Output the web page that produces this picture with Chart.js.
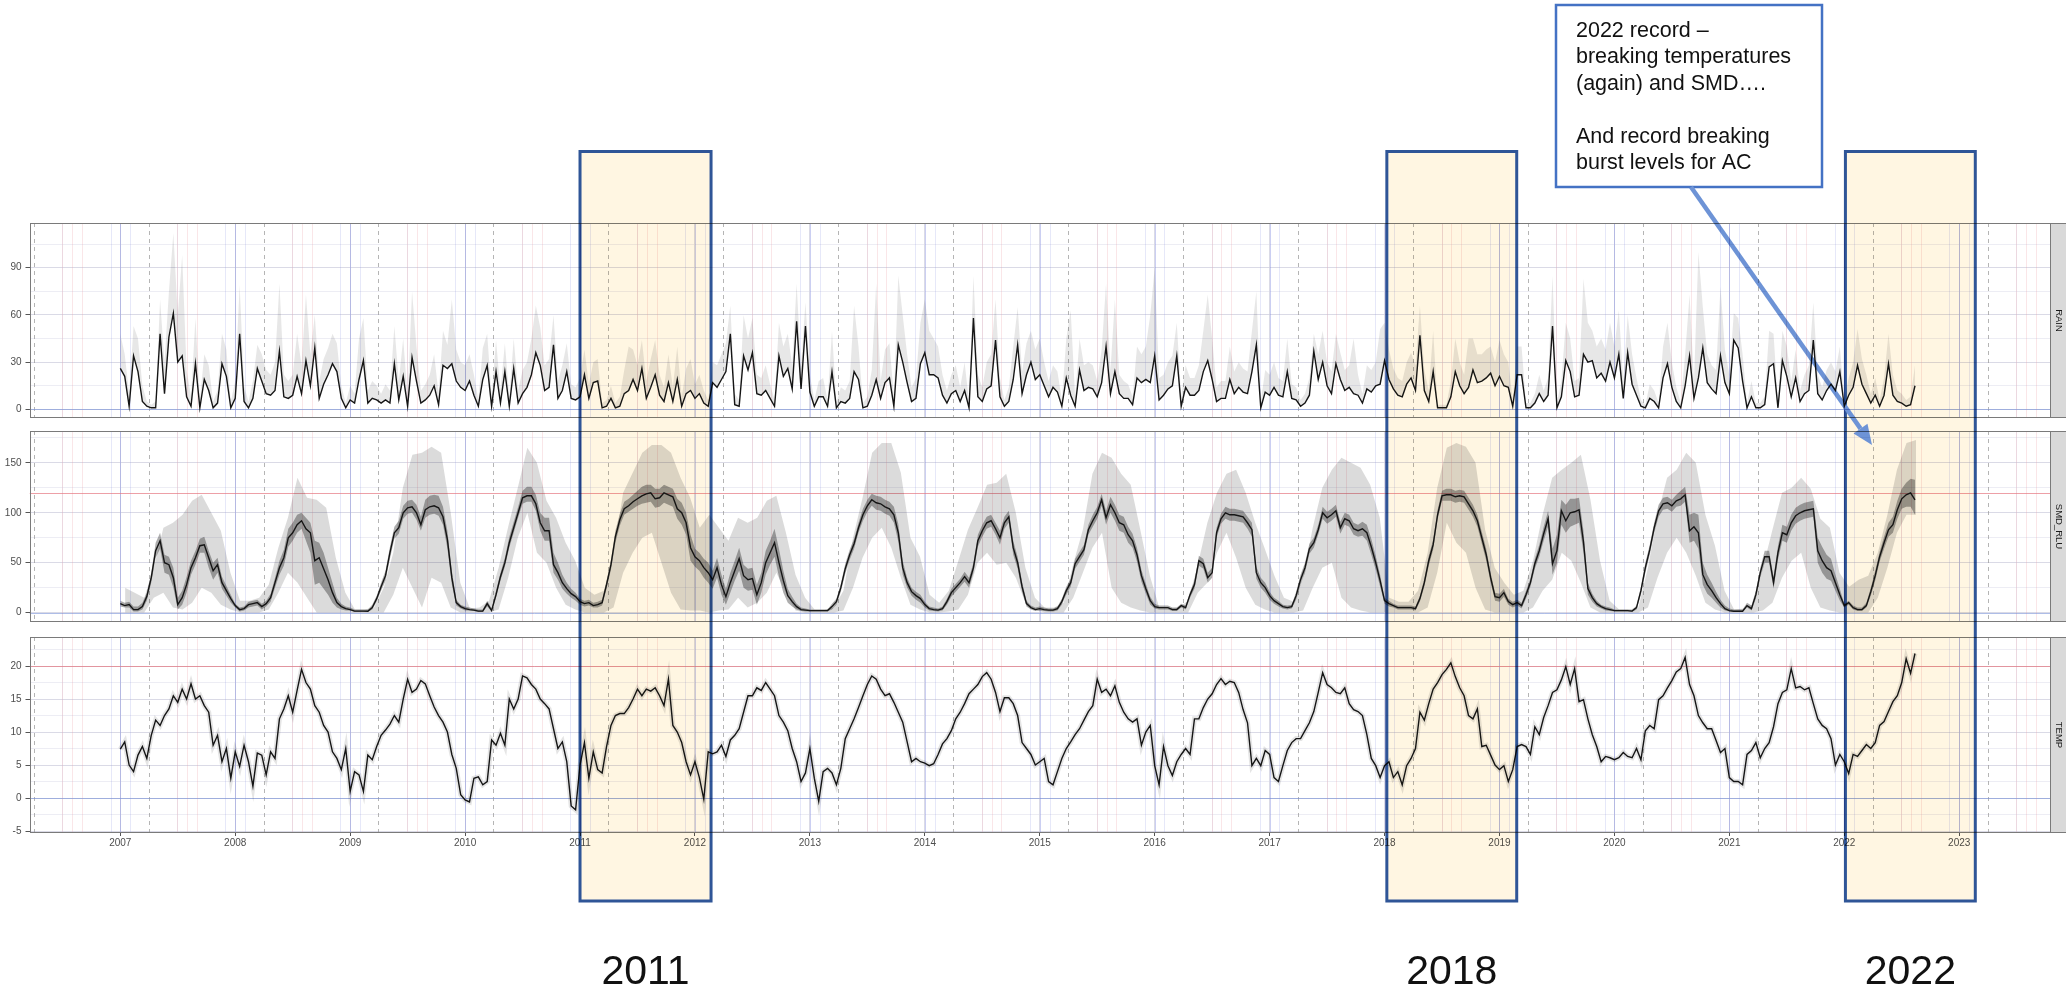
<!DOCTYPE html>
<html>
<head>
<meta charset="utf-8">
<title>RAIN / SMD_RLU / TEMP 2007–2022</title>
<script src="https://cdn.jsdelivr.net/npm/chart.js@4.4.1/dist/chart.umd.min.js"></script>
<style>
  html, body { margin: 0; padding: 0; background: #ffffff; }
  #wrap { position: relative; width: 2066px; height: 985px; overflow: hidden; background: #ffffff; }
  #wrap canvas { position: absolute; left: 0; }
  #overlay { top: 0; mix-blend-mode: multiply; pointer-events: none; }
</style>
</head>
<body>
<div id="wrap">
  <canvas id="cRain" width="2066" height="214" style="top:213px"></canvas>
  <canvas id="cSmd" width="2066" height="210" style="top:421px"></canvas>
  <canvas id="cTemp" width="2066" height="240" style="top:627px"></canvas>
  <canvas id="overlay" width="2066" height="985"></canvas>
</div>
<script>
// ---------------------------------------------------------------------------
// Fortnightly series, 26 values per year from Jan 2007, last block ends Aug 2022
// ---------------------------------------------------------------------------
const START_YEAR = 2007;
const STEPS_PER_YEAR = 26;

// weekly-ish rainfall (mm), fortnight samples
const RAIN = [
  /*2007*/ 26,21,2,34,24,5,2,1,1,48,10,46,61,30,34,8,2,29,1,19,12,1,4,29,21,1,
  /*2008*/ 7,48,5,1,7,26,18,10,9,12,37,8,7,9,21,10,31,15,39,7,16,22,29,24,7,1,
  /*2009*/ 6,4,19,31,4,7,6,4,6,4,29,6,21,2,33,18,4,6,9,15,3,28,26,29,18,14,
  /*2010*/ 12,18,9,2,19,28,2,24,4,24,2,26,4,10,14,22,36,28,12,14,41,7,12,24,7,6,
  /*2011*/ 8,22,7,17,18,1,2,7,1,2,10,12,19,12,26,7,14,22,9,5,17,5,19,2,10,12,
  /*2012*/ 7,10,4,2,17,14,19,24,48,3,2,34,25,36,10,9,12,7,2,34,21,26,13,56,13,53,
  /*2013*/ 11,2,8,8,2,24,1,5,4,7,24,19,1,2,9,19,7,17,20,2,41,30,17,5,7,29,
  /*2014*/ 36,22,22,20,9,4,10,12,5,12,1,58,8,5,13,15,44,8,2,5,19,41,10,22,30,19,
  /*2015*/ 22,15,8,14,11,2,20,9,2,25,12,14,13,8,17,40,10,24,10,7,7,3,20,17,19,17,
  /*2016*/ 34,6,9,13,15,34,2,14,9,9,12,24,31,19,5,7,7,19,10,14,11,10,24,41,1,11,
  /*2017*/ 9,14,9,8,24,7,6,2,4,9,37,19,30,15,10,29,19,12,14,10,9,4,13,11,15,16,
  /*2018*/ 31,19,13,9,8,16,20,12,47,12,5,24,1,1,1,8,24,15,10,14,25,17,18,20,23,15,
  /*2019*/ 21,15,14,2,22,22,1,1,4,10,5,9,53,1,8,31,24,8,9,35,30,31,20,23,18,30,
  /*2020*/ 20,35,7,36,16,9,2,1,7,5,1,20,29,14,5,1,15,34,7,20,39,17,13,10,34,17,
  /*2021*/ 10,44,39,18,1,8,1,1,3,27,29,1,31,21,8,20,5,10,12,44,10,6,12,16,12,24,
  /*2022*/ 2,9,14,28,16,10,4,9,2,9,29,9,5,4,2,3,15
];
// upper edge of the rainfall spread
const RAIN_HI = [
  /*2007*/ 48,35,10,53,45,15,5,3,5,70,30,75,112,60,98,25,8,58,6,35,28,5,12,48,38,5,
  /*2008*/ 18,79,15,5,18,41,35,25,22,30,80,22,18,22,48,28,73,35,60,18,32,39,48,42,15,4,
  /*2009*/ 15,10,45,58,12,18,15,10,16,12,53,18,45,8,75,40,12,16,22,35,10,50,41,70,38,30,
  /*2010*/ 28,35,22,6,39,48,8,44,12,42,8,45,12,25,30,45,66,52,28,32,60,18,28,42,16,14,
  /*2011*/ 20,38,16,30,32,4,6,15,4,8,25,40,38,28,44,18,32,44,22,14,35,14,40,8,26,32,
  /*2012*/ 16,22,12,6,30,28,35,42,66,10,6,60,45,58,22,20,28,16,6,55,40,48,28,80,28,68,
  /*2013*/ 22,6,18,20,6,50,4,14,12,18,66,40,4,8,25,80,18,38,42,8,85,60,35,14,20,55,
  /*2014*/ 70,50,45,40,22,12,22,28,14,30,5,85,22,14,30,35,70,20,6,14,40,65,24,42,50,38,
  /*2015*/ 45,30,18,28,24,6,45,63,8,45,28,30,28,18,38,80,25,70,22,18,16,8,40,35,40,60,
  /*2016*/ 90,20,22,30,34,55,8,28,20,20,28,50,73,45,14,18,18,40,24,30,26,24,50,75,5,25,
  /*2017*/ 22,30,20,18,45,16,14,6,10,20,48,35,50,30,24,48,36,25,28,45,22,10,28,25,30,51,
  /*2018*/ 55,38,26,20,18,30,36,28,66,25,12,50,3,3,3,18,45,30,22,45,45,35,35,38,40,30,
  /*2019*/ 44,35,30,6,40,40,4,4,10,22,12,20,85,4,18,55,45,18,20,83,55,50,40,45,38,55,
  /*2020*/ 40,63,18,60,35,20,6,3,16,12,4,40,55,30,14,4,35,73,18,100,65,35,28,25,78,38,
  /*2021*/ 22,61,58,35,4,18,4,4,8,50,48,4,50,40,18,38,12,22,28,68,22,14,25,30,24,40,
  /*2022*/ 6,20,30,51,32,22,10,20,6,20,48,22,12,10,6,8,28
];

// soil moisture deficit (mm)
const SMD = [
  /*2007*/ 9,7,8,3,3,6,16,35,62,72,50,48,35,8,15,28,45,55,67,68,55,42,48,30,22,14,
  /*2008*/ 7,3,4,8,9,10,6,9,15,30,45,55,75,80,88,92,84,80,52,55,44,33,20,10,6,4,
  /*2009*/ 3,1.5,1.5,1.5,1.4,5,14,26,37,60,80,85,100,105,106,100,88,103,106,107,105,96,73,35,10,6,
  /*2010*/ 4,3,2.5,1.5,1.5,9,2,18,36,50,70,85,100,115,117,117,109,90,82,82,48,40,30,24,19,16,
  /*2011*/ 11,9,10,7,8,10,28,48,76,93,104,107,111,114,117,119,120,114,115,120,118,116,104,100,90,65,
  /*2012*/ 56,52,45,40,33,45,28,16,30,42,54,37,33,34,18,30,50,60,70,50,32,17,11,6,3,2.5,
  /*2013*/ 2,2,2,2,2,6,11,25,44,58,69,85,98,107,113,110,109,106,104,98,80,45,30,21,17,14,
  /*2014*/ 8,4,3,2.5,4,11,20,25,30,36,30,45,72,82,90,92,84,75,90,96,65,50,26,9,5,3,
  /*2015*/ 4,3,2.5,2.5,4,11,22,30,49,56,63,83,92,100,113,95,108,100,90,88,78,72,58,37,24,12,
  /*2016*/ 6,5,5,5,3,3,7,5,18,28,52,49,35,40,80,94,100,98,98,97,96,90,83,40,30,25,
  /*2017*/ 17,12,9,6,5,6,17,33,45,64,70,83,100,95,98,102,85,94,92,84,82,84,80,66,50,32,
  /*2018*/ 12,9,7,5,5,5,5,4,14,30,52,68,98,117,118,118,116,117,116,109,102,92,75,58,35,16,
  /*2019*/ 15,20,11,8,10,7,18,30,49,62,79,94,49,62,102,92,100,101,103,71,24,15,9,6,4,3,
  /*2020*/ 2,2,2,2,1.5,5,22,45,63,85,102,109,110,107,112,114,118,82,86,80,38,28,22,15,9,4,
  /*2021*/ 2,1.4,1.4,1.4,7,4,18,40,56,56,30,60,80,78,90,97,100,102,103,104,62,52,45,42,30,18,
  /*2022*/ 7,10,5,3,3,7,21,37,56,70,83,88,103,114,118,120,113
];
// inner (dark) SMD spread
const SMD_IN_LO = [
  /*2007*/ 6,5,5,1,1,3,12,30,55,64,40,38,25,3,8,20,38,48,60,60,45,33,40,24,17,10,
  /*2008*/ 5,1,2,5,6,7,3,6,11,25,38,47,66,72,80,84,72,60,28,30,24,18,10,5,3,2,
  /*2009*/ 2,0.5,0.5,0.5,0.5,3,11,22,32,54,74,79,94,99,100,93,82,95,98,99,97,88,64,28,7,4,
  /*2010*/ 2,2,1.5,0.5,0.5,6,1,15,32,46,65,80,95,109,111,111,102,82,72,72,40,33,24,19,15,12,
  /*2011*/ 8,6,7,5,5,7,24,43,70,87,98,101,104,107,109,110,111,105,106,110,108,106,94,88,78,52,
  /*2012*/ 46,42,35,30,24,35,18,8,20,32,42,25,22,23,8,20,38,48,56,36,20,10,6,3,1.5,1,
  /*2013*/ 1,1,1,1,1,3,8,21,39,53,64,80,92,101,107,103,102,99,97,90,71,38,25,17,13,10,
  /*2014*/ 5,2,1.5,1,2,8,16,21,26,31,25,40,66,76,84,86,78,68,84,90,58,44,21,6,3,1.5,
  /*2015*/ 2,1.5,1,1,2,8,18,26,44,51,58,78,86,94,107,88,100,92,82,80,70,65,51,31,19,8,
  /*2016*/ 4,3,3,3,1.5,1.5,5,3,15,24,47,44,30,35,75,89,94,92,92,91,90,84,76,34,25,20,
  /*2017*/ 13,9,6,4,3,4,13,28,40,59,65,78,94,89,92,96,79,88,86,78,76,77,72,58,43,26,
  /*2018*/ 9,6,5,3,3,3,3,2,11,26,47,63,93,112,112,112,110,111,110,103,96,86,69,52,30,12,
  /*2019*/ 11,16,8,5,7,4,14,26,44,56,72,86,38,50,88,80,86,88,90,60,18,11,6,4,2,1.5,
  /*2020*/ 1,1,1,1,0.5,3,18,40,58,80,96,103,104,101,106,107,111,70,72,64,28,19,15,10,5,2,
  /*2021*/ 1,0.5,0.5,0.5,5,2,14,35,50,50,24,53,72,70,82,89,92,94,95,96,50,40,34,32,22,12,
  /*2022*/ 5,8,3,1.5,1.5,5,17,32,51,64,76,80,94,104,106,106,98
];
const SMD_IN_HI = [
  /*2007*/ 12,10,11,6,6,10,20,40,70,80,58,56,45,15,22,36,52,62,74,76,62,50,55,36,27,18,
  /*2008*/ 9,5,6,11,12,13,9,12,19,35,52,63,84,90,98,100,95,90,72,70,60,45,30,15,9,6,
  /*2009*/ 5,3,3,3,3,8,17,30,42,66,86,92,107,112,113,108,96,113,117,118,117,106,82,42,13,8,
  /*2010*/ 6,5,4,3,3,12,4,22,40,55,76,91,106,122,126,126,118,100,95,95,60,50,38,30,24,20,
  /*2011*/ 14,12,13,10,11,13,32,53,82,99,111,114,118,122,126,128,128,124,124,128,126,124,114,110,100,78,
  /*2012*/ 64,60,54,50,42,55,38,24,40,52,65,48,44,45,28,40,62,72,84,64,42,24,16,9,5,4,
  /*2013*/ 3,3,3,3,3,9,14,29,49,63,74,90,104,113,119,117,116,113,111,106,89,52,35,25,21,18,
  /*2014*/ 11,6,5,4,6,14,24,29,34,41,35,50,78,88,96,98,90,82,96,102,72,56,31,12,7,5,
  /*2015*/ 6,5,4,4,6,14,26,34,54,61,68,88,98,106,119,102,116,108,98,96,86,79,65,43,29,16,
  /*2016*/ 9,7,7,7,5,5,9,7,21,32,57,54,40,45,85,99,106,104,104,103,102,96,90,46,35,30,
  /*2017*/ 21,15,12,8,7,8,21,38,50,69,75,88,106,101,104,108,91,100,98,90,88,91,88,74,57,38,
  /*2018*/ 15,12,9,7,7,7,7,6,17,34,57,73,103,122,124,124,122,123,122,115,108,98,81,64,40,20,
  /*2019*/ 19,24,14,11,13,10,22,34,54,68,86,102,64,78,113,108,114,114,115,82,30,19,12,8,6,5,
  /*2020*/ 3,3,3,3,2.5,7,26,50,68,90,108,115,116,113,118,122,126,98,100,98,50,38,30,21,13,7,
  /*2021*/ 4,3,3,3,10,7,22,45,62,62,36,67,88,86,98,105,108,110,111,112,75,66,58,54,38,24,
  /*2022*/ 9,12,7,5,5,10,25,42,61,76,90,96,112,124,130,134,133
];

// outer (light) SMD spread, monthly from mid-Jan 2007 to mid-Aug 2022
const MONTHS_START = 2007 + 0.5 / 12;
const SMD_OUT_LO = [
  /*2007*/ 0,0,0,15,20,5,3,10,25,20,8,3,
  /*2008*/ 0,0,0,3,20,40,30,15,0,0,0,0,
  /*2009*/ 0,0,0,0,18,45,25,5,35,30,5,0,
  /*2010*/ 0,0,0,3,35,75,100,60,50,25,8,3,
  /*2011*/ 0,0,0,5,40,60,75,80,50,20,3,2,
  /*2012*/ 2,0,2,3,15,5,10,20,40,20,2,0,
  /*2013*/ 0,0,0,2,25,55,75,85,65,35,8,3,
  /*2014*/ 0,0,1,3,18,50,60,48,50,35,10,3,
  /*2015*/ 0,0,0,15,40,65,80,25,10,5,2,0,
  /*2016*/ 0,0,0,0,20,30,60,80,55,25,8,3,
  /*2017*/ 0,0,0,2,25,45,50,15,5,2,0,0,
  /*2018*/ 0,0,0,0,5,40,90,70,60,25,3,0,
  /*2019*/ 0,0,0,5,22,33,60,52,30,5,0,0,
  /*2020*/ 0,0,0,5,35,60,75,60,37,10,3,0,
  /*2021*/ 0,0,0,2,10,35,52,60,25,5,2,0,
  /*2022*/ 0,0,0,15,45,80,98,98
];
const SMD_OUT_HI = [
  /*2007*/ 25,20,15,45,85,90,98,112,118,100,82,40,
  /*2008*/ 12,12,15,28,65,95,135,115,113,105,55,20,
  /*2009*/ 3,3,5,25,60,125,158,160,166,160,100,30,
  /*2010*/ 4,5,12,45,86,125,165,150,112,95,70,52,
  /*2011*/ 25,18,22,60,120,140,160,168,168,160,135,115,
  /*2012*/ 85,98,85,72,95,90,95,112,117,80,38,15,
  /*2013*/ 3,3,5,22,75,115,160,170,170,140,75,56,
  /*2014*/ 18,10,22,52,83,105,128,130,139,100,45,15,
  /*2015*/ 5,5,10,49,83,139,160,155,139,128,83,37,
  /*2016*/ 4,4,5,12,48,90,120,139,143,120,90,64,
  /*2017*/ 37,15,11,35,85,125,143,155,150,145,128,95,
  /*2018*/ 15,11,11,22,60,125,165,170,166,150,83,45,
  /*2019*/ 30,18,22,52,98,135,143,150,158,113,52,12,
  /*2020*/ 3,3,5,45,98,135,143,160,150,98,67,22,
  /*2021*/ 3,4,8,45,83,120,125,135,124,94,85,40,
  /*2022*/ 26,33,37,60,98,143,170,173
];

// mean air temperature (°C)
const TEMP = [
  /*2007*/ 7.4,8.5,5.0,4.0,6.5,7.8,6.0,9.5,11.8,11.0,12.5,13.5,15.5,14.5,16.5,15.0,17.3,15.0,15.5,14.0,13.0,8.0,9.5,5.5,7.5,3.0,
  /*2008*/ 7.0,4.8,8.0,5.5,1.8,6.8,6.5,3.5,7.0,6.0,12.0,13.5,15.5,13.0,16.3,19.5,17.5,16.5,14.0,13.0,11.0,10.0,7.0,6.0,4.3,7.5,
  /*2009*/ 1.0,4.0,3.5,1.0,6.5,5.8,7.8,9.5,10.3,11.2,12.5,11.5,15.0,18.0,16.0,16.5,17.8,17.3,15.5,13.8,12.5,11.5,10.0,6.6,4.5,0.5,
  /*2010*/ -0.3,-0.6,3.0,3.2,2.0,2.5,8.8,8.0,9.8,8.0,15.0,13.5,15.0,18.5,18.2,17.2,16.5,15.0,14.3,13.5,10.5,7.5,8.5,5.5,-1.2,-1.8,
  /*2011*/ 5.0,8.4,3.0,7.0,4.3,3.8,7.8,11.0,12.5,12.8,12.8,13.7,15.0,16.5,15.5,16.5,16.2,16.7,15.5,14.0,18.0,11.0,10.0,8.4,5.5,3.5,
  /*2012*/ 5.5,3.1,-0.2,7.0,6.7,7.0,8.0,6.3,8.8,9.5,10.5,13.0,15.5,15.5,16.7,16.3,17.5,16.5,15.5,12.5,11.5,10.2,7.5,5.5,2.5,3.8,
  /*2013*/ 7.5,3.0,-0.5,4.0,4.5,3.8,2.0,4.5,9.0,10.5,12.0,13.7,15.5,17.2,18.5,18.0,16.5,15.5,15.8,14.5,13.0,11.5,8.5,5.5,6.0,5.5,
  /*2014*/ 5.3,4.9,5.2,6.6,8.2,9.0,10.2,12.0,13.0,14.3,15.8,16.5,17.2,18.4,19.0,18.0,16.0,13.1,15.2,15.2,14.3,12.5,8.4,7.5,6.6,5.0,
  /*2015*/ 5.5,6.0,2.5,2.0,4.0,6.0,7.5,8.5,9.6,10.5,11.8,13.1,14.0,18.0,16.0,16.5,15.5,17.0,14.5,13.0,12.0,11.5,12.0,8.0,10.0,11.0,
  /*2016*/ 4.9,2.0,7.8,4.9,3.4,5.5,6.6,7.5,6.6,12.0,12.0,13.7,15.0,15.8,17.2,18.1,17.2,17.7,17.5,16.0,13.4,11.4,4.9,6.0,4.9,7.2,
  /*2017*/ 6.6,3.1,2.5,4.9,7.2,8.4,9.0,9.0,10.2,11.4,13.1,16.0,19.0,17.2,16.7,16.0,15.8,16.7,14.3,13.4,13.1,12.5,9.6,6.0,4.9,3.1,
  /*2018*/ 4.9,5.5,3.1,4.0,2.0,4.9,6.0,7.5,13.0,11.8,14.3,16.5,17.5,18.7,19.5,20.5,18.4,16.7,15.5,12.5,12.0,13.5,7.8,8.0,6.5,5.0,
  /*2019*/ 4.3,4.9,2.5,4.3,7.8,8.1,7.8,6.6,10.8,9.6,12.2,14.0,16.0,16.4,17.9,19.9,17.2,19.6,14.6,14.9,12.0,9.6,7.8,5.5,6.3,6.1,
  /*2020*/ 5.8,6.1,6.9,6.3,6.1,7.5,5.8,10.2,11.0,10.5,14.9,15.5,16.7,17.8,19.1,19.6,21.3,17.2,15.5,12.5,11.4,10.5,10.5,8.7,6.9,7.5,
  /*2021*/ 3.1,2.5,2.5,2.0,6.6,7.2,8.4,6.1,7.5,8.4,10.8,14.3,16.0,16.4,19.6,16.7,16.9,16.4,16.7,14.3,12.0,11.0,10.5,9.0,5.0,6.6,
  /*2022*/ 5.5,3.7,6.6,6.3,7.2,8.1,7.5,8.4,11.0,11.6,13.1,14.6,15.5,17.5,21.1,18.9,21.9
];

// axis ticks
const YEAR_LABELS = [2007,2008,2009,2010,2011,2012,2013,2014,2015,2016,2017,2018,2019,2020,2021,2022,2023];
const RAIN_TICKS = [0,30,60,90];
const SMD_TICKS = [0,50,100,150];
const TEMP_TICKS = [-5,0,5,10,15,20];

// calendar guide lines (day of year)
const WINTER_DAYS = [-31, 0, 31];   // 1 Dec, 1 Jan, 1 Feb
const SUMMER_DAYS = [181, 212, 243]; // 1 Jul, 1 Aug, 1 Sep
const SPRING_DAY = 90;              // 1 Apr

// highlighted periods
const HIGHLIGHTS = [
  { label: '2011', from: 2011.0, to: 2012.14 },
  { label: '2018', from: 2018.02, to: 2019.15 },
  { label: '2022', from: 2022.01, to: 2023.14 }
];
const NOTE_LINES = ['2022 record \u2013', 'breaking temperatures', '(again) and SMD\u2026.', '', 'And record breaking', 'burst levels for AC'];

// ---------------------------------------------------------------------------
const FONT = '"Liberation Sans", Arial, Helvetica, sans-serif';
const X_MIN = 2006.21, X_MAX = 2023.79;
const MAJOR_GRID = 'rgba(205,205,222,0.75)';
const MINOR_GRID = 'rgba(215,215,230,0.45)';

const fortnight = arr => arr.map((v, i) => ({ x: START_YEAR + i / STEPS_PER_YEAR, y: v }));
const monthly = arr => arr.map((v, i) => ({ x: MONTHS_START + i / 12, y: v }));

const xGridValues = [];
for (let v = 2006.5; v <= 2023.5; v += 0.5) xGridValues.push(v);

function xScale(showLabels) {
  return {
    type: 'linear', min: X_MIN, max: X_MAX,
    afterBuildTicks: s => { s.ticks = xGridValues.map(v => ({ value: v })); },
    afterFit: s => { s.height = showLabels ? 22 : 0; },
    border: { display: false },
    grid: {
      color: c => Number.isInteger(c.tick.value) ? MAJOR_GRID : MINOR_GRID,
      lineWidth: 1,
      drawTicks: showLabels,
      tickLength: 4,
      tickColor: c => (Number.isInteger(c.tick.value) && YEAR_LABELS.includes(c.tick.value)) ? '#555' : 'rgba(0,0,0,0)'
    },
    ticks: {
      display: showLabels, autoSkip: false, maxRotation: 0, minRotation: 0, padding: 1,
      color: '#4d4d4d', font: { family: FONT, size: 10 },
      callback: v => YEAR_LABELS.includes(v) ? String(v) : ''
    }
  };
}

function yScale(min, max, majors) {
  const step = majors[1] - majors[0];
  const all = [];
  for (let v = majors[0] - step / 2; v <= max; v += step / 2) if (v >= min) all.push(v);
  return {
    type: 'linear', min, max,
    afterBuildTicks: s => { s.ticks = all.map(v => ({ value: v })); },
    afterFit: s => { s.width = 29.5; },
    border: { display: false },
    grid: {
      color: c => majors.includes(c.tick.value) ? MAJOR_GRID : MINOR_GRID,
      lineWidth: 1,
      tickLength: 4,
      tickColor: c => majors.includes(c.tick.value) ? '#555' : 'rgba(0,0,0,0)'
    },
    ticks: {
      autoSkip: false, padding: 4, color: '#4d4d4d', font: { family: FONT, size: 10 },
      callback: v => majors.includes(v) ? String(v) : ''
    }
  };
}

// Guide lines, reference lines, panel frame and facet strip
const panelDecor = {
  id: 'panelDecor',
  beforeDatasetsDraw(chart, args, o) {
    const { ctx, chartArea: a } = chart;
    const xs = chart.scales.x, ys = chart.scales.y;
    ctx.save();
    ctx.beginPath(); ctx.rect(a.left, a.top, a.right - a.left, a.bottom - a.top); ctx.clip();
    const vline = (val, color, dash) => {
      const px = Math.round(xs.getPixelForValue(val)) + 0.5;
      if (px < a.left || px > a.right) return;
      ctx.beginPath(); ctx.setLineDash(dash || []);
      ctx.strokeStyle = color; ctx.lineWidth = 1;
      ctx.moveTo(px, a.top); ctx.lineTo(px, a.bottom); ctx.stroke();
    };
    for (let yr = 2006; yr <= 2024; yr++) {
      SUMMER_DAYS.forEach(d => vline(yr + d / 365, 'rgba(236,150,160,0.24)'));
      WINTER_DAYS.forEach(d => vline(yr + d / 365, d === 0 ? 'rgba(130,140,225,0.42)' : 'rgba(130,140,225,0.2)'));
      vline(yr + SPRING_DAY / 365, 'rgba(150,150,150,0.7)', [4, 4]);
    }
    ctx.setLineDash([]);
    const hline = (val, color) => {
      const py = Math.round(ys.getPixelForValue(val)) + 0.5;
      ctx.beginPath(); ctx.strokeStyle = color; ctx.lineWidth = 1;
      ctx.moveTo(a.left, py); ctx.lineTo(a.right, py); ctx.stroke();
    };
    hline(0, 'rgba(120,145,215,0.6)');
    if (o.threshold !== undefined) hline(o.threshold, 'rgba(230,120,130,0.7)');
    ctx.restore();
  },
  afterDraw(chart, args, o) {
    const { ctx, chartArea: a } = chart;
    ctx.save();
    const l = Math.round(a.left) + 0.5, r = Math.round(a.right) + 0.5;
    const t = Math.round(a.top) + 0.5, b = Math.round(a.bottom) + 0.5;
    // facet strip
    ctx.fillStyle = '#d9d9d9';
    ctx.fillRect(r, t, chart.width - r + 1, b - t);
    ctx.strokeStyle = '#7a7a7a'; ctx.lineWidth = 1;
    ctx.strokeRect(r, t, chart.width - r + 2, b - t);
    ctx.translate((r + chart.width) / 2, (t + b) / 2);
    ctx.rotate(Math.PI / 2);
    ctx.fillStyle = '#1a1a1a';
    ctx.font = '9.5px ' + FONT;
    ctx.textAlign = 'center'; ctx.textBaseline = 'middle';
    ctx.fillText(o.label, 0, 0);
    ctx.restore();
    // panel frame
    ctx.save();
    ctx.strokeStyle = '#7a7a7a'; ctx.lineWidth = 1;
    ctx.strokeRect(l, t, r - l, b - t);
    ctx.restore();
  }
};

const LINE = { borderColor: '#151515', borderWidth: 1.4, pointRadius: 0, tension: 0, fill: false };
const BAND = { borderWidth: 0, pointRadius: 0, tension: 0 };

function makeChart(id, datasets, y, padding, showX, decor) {
  return new Chart(document.getElementById(id), {
    type: 'line',
    data: { datasets },
    options: {
      responsive: false, animation: false, devicePixelRatio: 1, events: [],
      parsing: false, normalized: true,
      layout: { padding },
      scales: { x: xScale(showX), y },
      plugins: { legend: { display: false }, tooltip: { enabled: false }, panelDecor: decor }
    },
    plugins: [panelDecor]
  });
}

const rainChart = makeChart('cRain', [
  Object.assign({}, LINE, { data: fortnight(RAIN) }),
  Object.assign({}, BAND, { data: fortnight(RAIN_HI), fill: '-1', backgroundColor: 'rgba(0,0,0,0.095)' })
], yScale(-4.84, 118.4, RAIN_TICKS), { top: 8, bottom: 7.5, left: 0, right: 16 }, false, { label: 'RAIN' });

const smdChart = makeChart('cSmd', [
  Object.assign({}, LINE, { data: fortnight(SMD) }),
  Object.assign({}, BAND, { data: fortnight(SMD_IN_HI), fill: '+1', backgroundColor: 'rgba(0,0,0,0.32)' }),
  Object.assign({}, BAND, { data: fortnight(SMD_IN_LO), fill: false }),
  Object.assign({}, BAND, { data: monthly(SMD_OUT_HI), fill: '+1', backgroundColor: 'rgba(0,0,0,0.14)' }),
  Object.assign({}, BAND, { data: monthly(SMD_OUT_LO), fill: false })
], yScale(-8.4, 181.9, SMD_TICKS), { top: 6.3, bottom: 4.5, left: 0, right: 16 }, false, { label: 'SMD_RLU', threshold: 120 });

const tempChart = makeChart('cTemp', [
  Object.assign({}, LINE, { data: fortnight(TEMP) }),
  Object.assign({}, LINE, { data: fortnight(TEMP), borderColor: 'rgba(0,0,0,0.1)', borderWidth: 5 })
], yScale(-5.15, 24.4, TEMP_TICKS), { top: 6, bottom: 13, left: 0, right: 16 }, true, { label: 'TEMP', threshold: 20 });

// ---------------------------------------------------------------------------
// Highlight boxes, year captions and call-out
function drawOverlay(xs) {
  const cv = document.getElementById('overlay');
  const ctx = cv.getContext('2d');
  const BOX_TOP = 151.5, BOX_BOTTOM = 901;
  HIGHLIGHTS.forEach(h => {
    const l = xs.getPixelForValue(h.from), r = xs.getPixelForValue(h.to);
    ctx.fillStyle = 'rgb(255,246,226)';
    ctx.fillRect(l, BOX_TOP, r - l, BOX_BOTTOM - BOX_TOP);
  });
  HIGHLIGHTS.forEach(h => {
    const l = xs.getPixelForValue(h.from), r = xs.getPixelForValue(h.to);
    ctx.strokeStyle = '#2f5597'; ctx.lineWidth = 3;
    ctx.strokeRect(l, BOX_TOP, r - l, BOX_BOTTOM - BOX_TOP);
    ctx.fillStyle = '#111111';
    ctx.font = '41px ' + FONT;
    ctx.textAlign = 'center'; ctx.textBaseline = 'alphabetic';
    ctx.fillText(h.label, (l + r) / 2, 984);
  });

  // call-out box
  ctx.fillStyle = '#ffffff';
  ctx.fillRect(1556, 5, 266, 182);
  ctx.strokeStyle = '#4472c4'; ctx.lineWidth = 2.5;
  ctx.strokeRect(1556, 5, 266, 182);
  ctx.fillStyle = '#111111';
  ctx.font = '21.5px ' + FONT;
  ctx.textAlign = 'left'; ctx.textBaseline = 'alphabetic';
  NOTE_LINES.forEach((s, i) => ctx.fillText(s, 1576, 37 + i * 26.4));

  // arrow
  const x0 = 1691, y0 = 187, x1 = 1872, y1 = 445;
  const ang = Math.atan2(y1 - y0, x1 - x0);
  const headLen = 20, headW = 8.5;
  const bx = x1 - headLen * Math.cos(ang), by = y1 - headLen * Math.sin(ang);
  ctx.strokeStyle = '#6d93d6'; ctx.lineWidth = 4.5; ctx.lineCap = 'butt';
  ctx.beginPath(); ctx.moveTo(x0, y0); ctx.lineTo(bx, by); ctx.stroke();
  ctx.fillStyle = '#6d93d6';
  ctx.beginPath();
  ctx.moveTo(x1, y1);
  ctx.lineTo(bx + headW * Math.sin(ang), by - headW * Math.cos(ang));
  ctx.lineTo(bx - headW * Math.sin(ang), by + headW * Math.cos(ang));
  ctx.closePath(); ctx.fill();
}
drawOverlay(tempChart.scales.x);
</script>
</body>
</html>
